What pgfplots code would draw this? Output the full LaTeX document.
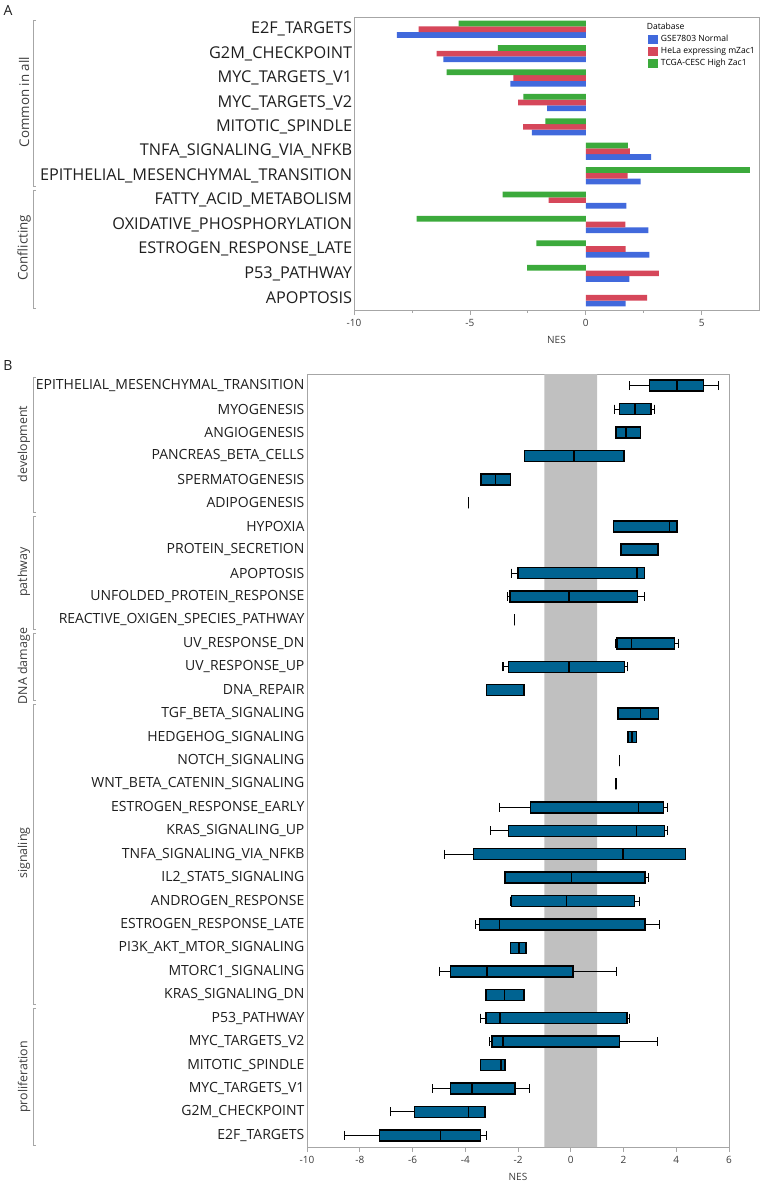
\documentclass[border=0pt]{standalone}
\usepackage{fontspec}
\setmainfont{Open Sans}
\usepackage{pgfplots}
\pgfplotsset{compat=1.18}
\usepgfplotslibrary{statistics}

\definecolor{gseblue}{HTML}{4169DC}
\definecolor{helared}{HTML}{D6475A}
\definecolor{tcgagreen}{HTML}{3CAA3C}
\definecolor{boxblue}{HTML}{006391}
\definecolor{band}{HTML}{C0C0C0}
\definecolor{frame}{HTML}{A6A6A6}
\definecolor{labtext}{HTML}{1E1E1E}
\definecolor{ticktext}{HTML}{3C3C3C}

% one prepared box: row, lower whisker, q1, median, q3, upper whisker
\newcommand\bx[6]{\addplot[draw=black, fill=boxblue, line width=1.1pt,
  boxplot prepared={draw position=#1, lower whisker=#2, lower quartile=#3,
  median=#4, upper quartile=#5, upper whisker=#6}] coordinates {};}

\begin{document}
\begin{tikzpicture}[x=0.75pt, y=-0.75pt]
\useasboundingbox (0,0) rectangle (761,1181);

% ---------- panel A ----------
\begin{axis}[
  at={(265.5pt,-12.75pt)}, anchor=north west,
  scale only axis, width=303.75pt, height=219.75pt,
  xmin=-10, xmax=7.47, ymin=-0.5, ymax=11.5, y dir=reverse,
  axis line style={frame, line width=0.6pt},
  xtick={-10,-5,0,5}, xticklabels={-10,-5,0,5},
  minor xtick={-7.5,-2.5,2.5},
  xtick pos=left, tick align=outside,
  major tick length=3.75pt, minor tick length=2.25pt,
  every tick/.style={frame, line width=0.6pt},
  ytick={0,...,11}, ytick style={draw=none},
  yticklabels={E2F\_TARGETS, G2M\_CHECKPOINT, MYC\_TARGETS\_V1, MYC\_TARGETS\_V2,
    MITOTIC\_SPINDLE, TNFA\_SIGNALING\_VIA\_NFKB, EPITHELIAL\_MESENCHYMAL\_TRANSITION,
    FATTY\_ACID\_METABOLISM, OXIDATIVE\_PHOSPHORYLATION, ESTROGEN\_RESPONSE\_LATE,
    P53\_PATHWAY, APOPTOSIS},
  yticklabel style={font=\fontsize{12.2}{14}\selectfont, text=labtext, inner sep=1pt,
    xshift=3.5pt},
  xticklabel style={font=\fontsize{7.5}{9}\selectfont, text=ticktext},
  xlabel={NES}, xlabel style={font=\fontsize{7.5}{9}\selectfont, text=ticktext},
  xbar, bar width=4.3pt,
  legend style={at={(0.726,0.99)}, anchor=north west, draw=none, fill=none,
    font=\fontsize{6.4}{7.5}\selectfont, inner sep=0pt, row sep=-1.2pt,
    cells={anchor=west}},
  legend image code/.code={\fill[#1] (0pt,-3.6pt) rectangle (7.5pt,3.6pt);},
]
\addlegendimage{empty legend}
\addlegendentry{\hspace*{-10.5pt}Database}
\addplot[draw=none, fill=gseblue, bar shift=-4.3pt] coordinates {
  (-8.15,0) (-6.15,1) (-3.25,2) (-1.67,3) (-2.33,4) (2.82,5) (2.36,6)
  (1.75,7) (2.70,8) (2.74,9) (1.88,10) (1.72,11)};
\addlegendentry{GSE7803 Normal}
\addplot[draw=none, fill=helared, bar shift=0pt] coordinates {
  (-7.21,0) (-6.44,1) (-3.12,2) (-2.92,3) (-2.70,4) (1.90,5) (1.80,6)
  (-1.61,7) (1.71,8) (1.72,9) (3.15,10) (2.64,11)};
\addlegendentry{HeLa expressing mZac1}
\addplot[draw=none, fill=tcgagreen, bar shift=4.3pt] coordinates {
  (-5.49,0) (-3.79,1) (-6.01,2) (-2.69,3) (-1.74,4) (1.81,5) (7.08,6)
  (-3.59,7) (-7.30,8) (-2.13,9) (-2.53,10)};
\addlegendentry{TCGA-CESC High Zac1}
\end{axis}

% ---------- panel B ----------
\begin{axis}[
  at={(230.25pt,-280.5pt)}, anchor=north west,
  scale only axis, width=316.5pt, height=579.75pt,
  xmin=-10, xmax=6, ymin=-0.5, ymax=32.5, y dir=reverse,
  axis line style={frame, line width=0.6pt},
  xtick={-10,-8,...,6}, xticklabels={-10,-8,-6,-4,-2,0,2,4,6},
  xtick pos=left, tick align=outside, major tick length=3.75pt,
  every tick/.style={frame, line width=0.6pt},
  ytick={0,...,32}, ytick style={draw=none},
  yticklabels={EPITHELIAL\_MESENCHYMAL\_TRANSITION, MYOGENESIS, ANGIOGENESIS,
    PANCREAS\_BETA\_CELLS, SPERMATOGENESIS, ADIPOGENESIS, HYPOXIA,
    PROTEIN\_SECRETION, APOPTOSIS, UNFOLDED\_PROTEIN\_RESPONSE,
    REACTIVE\_OXIGEN\_SPECIES\_PATHWAY, UV\_RESPONSE\_DN, UV\_RESPONSE\_UP,
    DNA\_REPAIR, TGF\_BETA\_SIGNALING, HEDGEHOG\_SIGNALING, NOTCH\_SIGNALING,
    WNT\_BETA\_CATENIN\_SIGNALING, ESTROGEN\_RESPONSE\_EARLY, KRAS\_SIGNALING\_UP,
    TNFA\_SIGNALING\_VIA\_NFKB, IL2\_STAT5\_SIGNALING, ANDROGEN\_RESPONSE,
    ESTROGEN\_RESPONSE\_LATE, PI3K\_AKT\_MTOR\_SIGNALING, MTORC1\_SIGNALING,
    KRAS\_SIGNALING\_DN, P53\_PATHWAY, MYC\_TARGETS\_V2, MITOTIC\_SPINDLE,
    MYC\_TARGETS\_V1, G2M\_CHECKPOINT, E2F\_TARGETS},
  yticklabel style={font=\fontsize{10.5}{12}\selectfont, text=labtext, inner sep=1pt,
    xshift=3pt},
  xticklabel style={font=\fontsize{7.5}{9}\selectfont, text=ticktext},
  xlabel={NES}, xlabel style={font=\fontsize{7.5}{9}\selectfont, text=ticktext},
  boxplot/box extend=0.47, boxplot/whisker extend=0.38,
  boxplot/every whisker/.style={black, line width=0.8pt},
  boxplot/every median/.style={black, line width=1.1pt},
]
\addplot[draw=none, fill=band, forget plot] coordinates {
  (-1,-0.5) (1,-0.5) (1,32.5) (-1,32.5) (-1,-0.5)};
\bx{0}{2.24}{2.99}{4.03}{5.04}{5.61}
\bx{1}{1.66}{1.84}{2.43}{3.04}{3.19}
\bx{2}{1.72}{1.72}{2.09}{2.64}{2.64}
\bx{3}{-1.76}{-1.76}{0.13}{2.02}{2.02}
\bx{4}{-3.41}{-3.41}{-2.85}{-2.28}{-2.28}
\bx{5}{-3.88}{-3.88}{-3.88}{-3.88}{-3.88}
\bx{6}{1.62}{1.62}{3.75}{4.03}{4.03}
\bx{7}{1.89}{1.89}{1.93}{3.30}{3.30}
\bx{8}{-2.24}{-2.00}{2.51}{2.79}{2.79}
\bx{9}{-2.41}{-2.31}{-0.06}{2.53}{2.79}
\bx{10}{-2.13}{-2.13}{-2.13}{-2.13}{-2.13}
\bx{11}{1.69}{1.76}{2.31}{3.93}{4.09}
\bx{12}{-2.57}{-2.37}{-0.06}{2.04}{2.15}
\bx{13}{-3.19}{-3.19}{-1.78}{-1.75}{-1.75}
\bx{14}{1.80}{1.80}{2.64}{3.32}{3.32}
\bx{15}{2.17}{2.17}{2.33}{2.50}{2.50}
\bx{16}{1.84}{1.84}{1.84}{1.84}{1.84}
\bx{17}{1.71}{1.71}{1.71}{1.71}{1.71}
\bx{18}{-2.71}{-1.52}{2.56}{3.52}{3.68}
\bx{19}{-3.04}{-2.37}{2.50}{3.56}{3.68}
\bx{20}{-4.79}{-3.68}{1.98}{4.35}{4.35}
\bx{21}{-2.50}{-2.50}{0.03}{2.81}{2.95}
\bx{22}{-2.30}{-2.24}{-0.16}{2.41}{2.60}
\bx{23}{-3.61}{-3.46}{-2.71}{2.81}{3.37}
\bx{24}{-2.28}{-2.28}{-1.96}{-1.69}{-1.69}
\bx{25}{-4.97}{-4.55}{-3.17}{0.08}{1.74}
\bx{26}{-3.22}{-3.22}{-2.51}{-1.77}{-1.77}
\bx{27}{-3.42}{-3.22}{-2.69}{2.13}{2.22}
\bx{28}{-3.07}{-2.98}{-2.56}{1.85}{3.28}
\bx{29}{-3.42}{-3.42}{-2.64}{-2.50}{-2.50}
\bx{30}{-5.23}{-4.55}{-3.74}{-2.12}{-1.57}
\bx{31}{-6.82}{-5.93}{-3.87}{-3.26}{-3.22}
\bx{32}{-8.58}{-7.26}{-4.94}{-3.42}{-3.21}
\end{axis}

% ---------- panel letters, group labels and brackets ----------
\node[font=\fontsize{10.5}{12}\selectfont, text=labtext] at (8,10) {A};
\node[font=\fontsize{10.5}{12}\selectfont, text=labtext] at (8,365) {B};

\tikzset{grp/.style={rotate=90, font=\fontsize{10}{12}\selectfont, text=ticktext},
         grpb/.style={grp, font=\fontsize{9.3}{11}\selectfont},
         brk/.style={frame, line width=0.6pt}}
\node[grp] at (24,102) {Common in all};
\node[grp] at (24,248) {Conflicting};
\draw[brk] (36,20) -- (33.5,20) -- (33.5,186) -- (36,186);
\draw[brk] (36,190) -- (33.5,190) -- (33.5,308) -- (36,308);

\node[grpb] at (24,444) {development};
\node[grpb] at (24,572) {pathway};
\node[grpb] at (24,666) {DNA damage};
\node[grpb] at (24,853) {signaling};
\node[grpb] at (24,1077) {proliferation};
\draw[brk] (36,377) -- (33.5,377) -- (33.5,512) -- (36,512);
\draw[brk] (36,516) -- (33.5,516) -- (33.5,629) -- (36,629);
\draw[brk] (36,633) -- (33.5,633) -- (33.5,700) -- (36,700);
\draw[brk] (36,704) -- (33.5,704) -- (33.5,1004) -- (36,1004);
\draw[brk] (36,1008) -- (33.5,1008) -- (33.5,1145) -- (36,1145);
\end{tikzpicture}
\end{document}
